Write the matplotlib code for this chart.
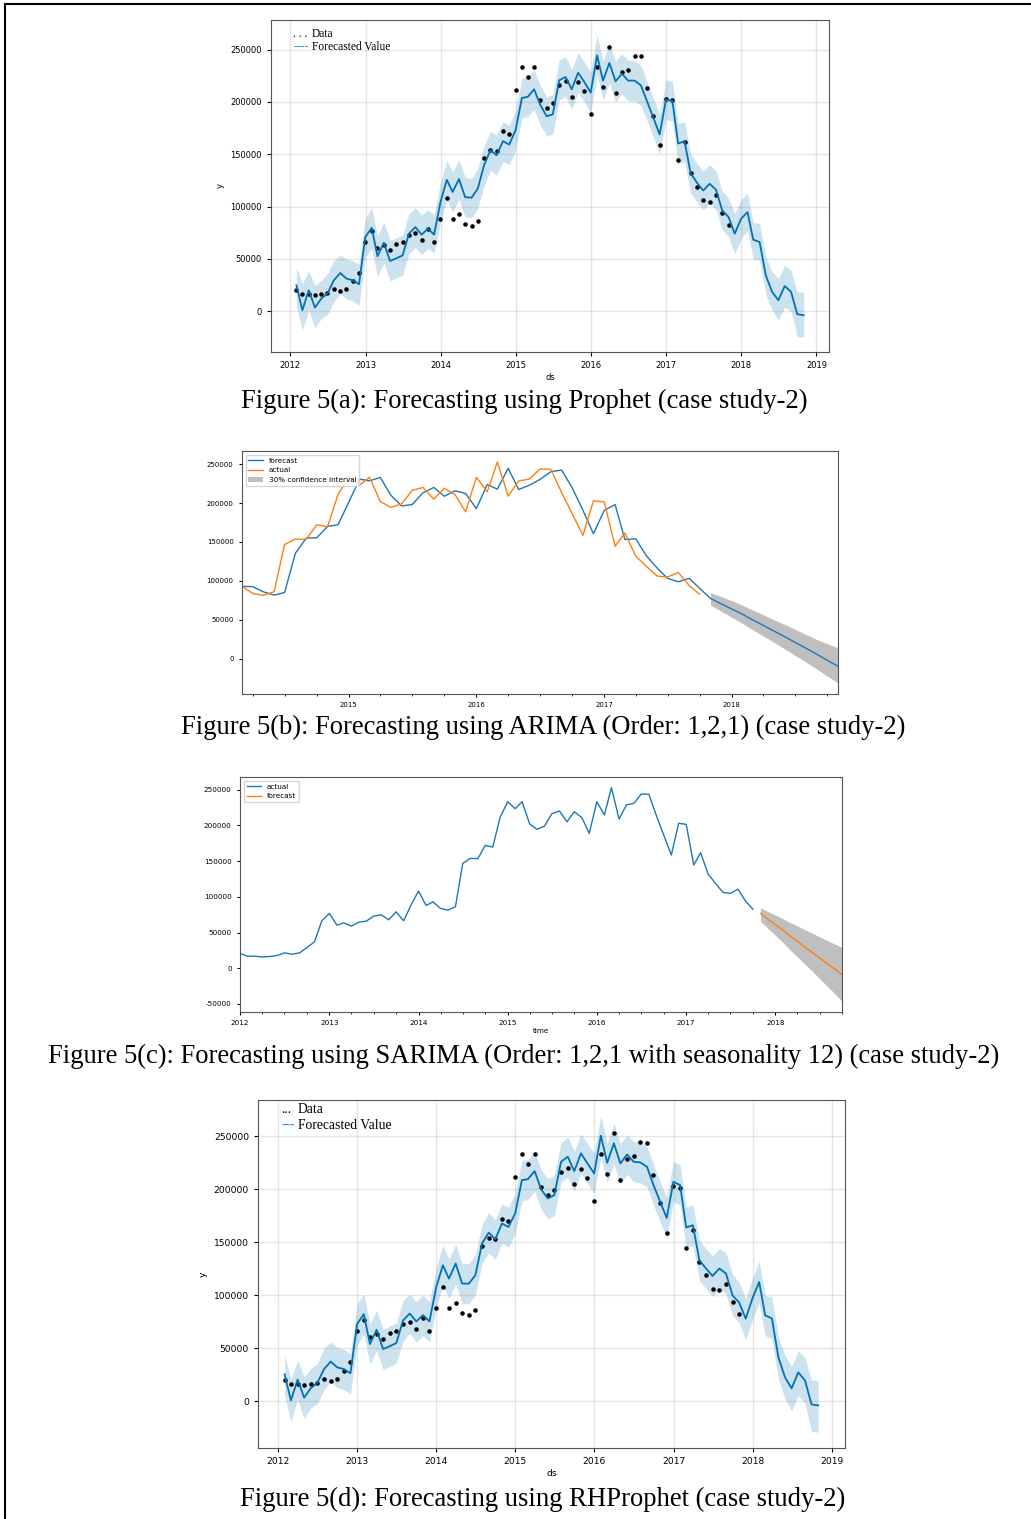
import numpy as np
import pandas as pd
import matplotlib
matplotlib.use('Agg')
import matplotlib.pyplot as plt
import matplotlib.dates as mdates
from matplotlib.lines import Line2D

plt.rcParams['axes.unicode_minus'] = False

# monthly actual values 2012-01 .. 2017-10
actual = [20600, 16800, 16800, 15900, 16300, 17800, 21500, 19600, 21500, 29000, 36900, 66400,
          76700, 60300, 63500, 58900, 64500, 65900, 72900, 74800, 67800, 79000, 66400, 88400,
          108000, 87900, 93000, 83700, 81300, 86000, 146800, 153800, 153400, 172100, 169700, 211300,
          233200, 223400, 233200, 202000, 194500, 199100, 216400, 220200, 205200, 219200, 210800, 188900,
          233200, 214600, 252900, 209000, 228600, 231000, 244000, 243600, 213600, 186500, 158500, 203000,
          201500, 144500, 161700, 131800, 118800, 106200, 104800, 110800, 94000, 82700]

# prophet forecast 2012-01 .. 2018-10
prophet_yhat = [24800, 1000, 20000, 3500, 12100, 16900, 29600, 36500, 31200, 29600, 25800, 70900,
                79800, 52500, 65500, 48000, 50600, 53400, 74100, 80400, 73200, 78900, 73200, 104300,
                125600, 114000, 126300, 109000, 108500, 117000, 139600, 153900, 149100, 162500, 159300, 173000,
                203900, 204800, 212100, 197300, 186300, 188200, 220700, 223900, 212100, 228000, 219100, 208900,
                244500, 220400, 237300, 219700, 227000, 220400, 220400, 215900, 200600, 184800, 168900, 202200,
                201000, 160300, 162500, 131800, 122700, 115400, 121800, 116100, 96400, 90000, 74100, 88400,
                94700, 68400, 66100, 34300, 18400, 10500, 24100, 18400, -2900, -3800]
prophet_upper = [41700, 26400, 38200, 24800, 29600, 36000, 48700, 53400, 50000, 48000, 45000, 89000,
                 98900, 72000, 85000, 68000, 70000, 73000, 93000, 99000, 92000, 97000, 92000, 123000,
                 144000, 133000, 145000, 128000, 127000, 136000, 158000, 172000, 168000, 181000, 178000, 192000,
                 223000, 224000, 231000, 216000, 205000, 207000, 240000, 243000, 231000, 247000, 238000, 228000,
                 264000, 239000, 256000, 239000, 246000, 240000, 239000, 235000, 219000, 203000, 188000, 221000,
                 220000, 179000, 181000, 150000, 141000, 134000, 140000, 134000, 115000, 108000, 93000, 107000,
                 112300, 85200, 83600, 52000, 37500, 31200, 43900, 39100, 18400, 18400]
prophet_lower = [4100, -18100, 1000, -15900, -7000, -3000, 8900, 16900, 12000, 10000, 5700, 52000,
                 60100, 33000, 46000, 29000, 32000, 34000, 55000, 61000, 54000, 60000, 56000, 85000,
                 106000, 95000, 107000, 90000, 89000, 98000, 120000, 135000, 130000, 143000, 140000, 154000,
                 185000, 186000, 193000, 178000, 168000, 169000, 202000, 205000, 193000, 209000, 200000, 189000,
                 226000, 202000, 218000, 200000, 208000, 201000, 201000, 197000, 182000, 166000, 150000, 183000,
                 182000, 141000, 143000, 113000, 104000, 97000, 103000, 97000, 78000, 71000, 55000, 69000,
                 77300, 50200, 48700, 16000, 1000, -8600, 4100, -600, -24500, -24500]

# RHProphet forecast 2012-01 .. 2018-10
rh_yhat = [25500, 1000, 20600, 3600, 12500, 17400, 30500, 37600, 32100, 30500, 26600, 73000,
           82200, 54100, 67500, 49400, 52100, 55000, 76300, 82800, 75400, 81300, 75400, 107400,
           128300, 115700, 129900, 111000, 111000, 118900, 148800, 159100, 152800, 167600, 164400, 177100,
           208500, 209400, 217000, 199700, 191200, 194300, 225800, 230500, 217000, 233700, 224200, 214800,
           250300, 224800, 243100, 224200, 232700, 225800, 225200, 221000, 203800, 188000, 172900, 206900,
           203800, 163900, 166000, 133000, 125200, 118200, 125200, 120500, 100000, 93000, 78000, 97000,
           112600, 81100, 78300, 41500, 22600, 12300, 27400, 19800, -2800, -3800]
rh_upper = [44000, 21000, 39000, 23000, 31000, 36000, 50000, 56000, 51000, 49000, 45000, 92000,
            101000, 73000, 86000, 68000, 71000, 74000, 95000, 101000, 94000, 100000, 94000, 126000,
            147000, 134000, 148000, 130000, 130000, 138000, 167000, 178000, 171000, 186000, 183000, 196000,
            227000, 228000, 236000, 218000, 210000, 213000, 244000, 249000, 236000, 252000, 243000, 234000,
            269000, 243000, 262000, 243000, 251000, 245000, 244000, 240000, 223000, 207000, 192000, 226000,
            223000, 183000, 185000, 152000, 144000, 137000, 144000, 140000, 120000, 112000, 97000, 116000,
            132000, 100000, 98000, 61000, 43000, 33000, 48000, 41000, 20000, 20000]
rh_lower = [6000, -19000, 2000, -16000, -6000, -2000, 11000, 19000, 13000, 11000, 7000, 54000,
            63000, 35000, 48000, 30000, 33000, 36000, 57000, 64000, 56000, 62000, 56000, 88000,
            109000, 97000, 111000, 92000, 92000, 100000, 130000, 140000, 134000, 149000, 145000, 158000,
            189000, 190000, 198000, 181000, 172000, 175000, 207000, 211000, 198000, 215000, 205000, 196000,
            231000, 206000, 224000, 205000, 214000, 207000, 206000, 202000, 185000, 169000, 154000, 188000,
            185000, 145000, 147000, 114000, 106000, 99000, 106000, 101000, 81000, 74000, 58000, 77000,
            93000, 62000, 59000, 21000, 2000, -9000, 6000, -2000, -28000, -29000]

# ARIMA(1,2,1): in-sample 2014-03 .. 2017-10, then forecast 2017-11 .. 2018-11
arima_fit = [92800, 92500, 85900, 81600, 85000, 135600, 155000, 155400, 170000, 172200,
             201600, 230900, 228700, 233100, 210200, 196400, 198100, 213300, 220200, 208900, 215900, 212400,
             193000, 224000, 218000, 244800, 217600, 223100, 230500, 240500, 242600, 219800, 190800, 160600,
             190800, 198100, 153200, 154100, 132500, 116600, 103200, 98800, 103200, 90300]
arima_fc = [77300, 70500, 63700, 56900, 49900, 42700, 35500, 28200, 20800, 13300, 5600, -2200, -10000]
arima_hi = [85000, 80000, 74500, 68500, 62500, 56500, 50000, 44000, 37500, 31000, 24500, 19000, 13800]
arima_lo = [68600, 61000, 53000, 45000, 37300, 29000, 21000, 12500, 4000, -4500, -13500, -22500, -31500]

# SARIMA forecast 2017-11 .. 2018-10
sarima_fc = [76700, 68900, 61100, 53300, 45500, 37700, 29900, 22100, 14300, 6500, -1200, -8900]
sarima_hi = [84600, 79500, 74400, 69300, 64300, 59200, 54100, 49100, 44000, 39000, 34000, 29000]
sarima_lo = [65900, 56000, 46100, 36000, 26000, 16000, 6000, -4000, -14500, -25000, -35500, -46300]

captions = ['Figure 5(a): Forecasting using Prophet (case study-2)',
            'Figure 5(b): Forecasting using ARIMA (Order: 1,2,1) (case study-2)',
            'Figure 5(c): Forecasting using SARIMA (Order: 1,2,1 with seasonality 12) (case study-2)',
            'Figure 5(d): Forecasting using RHProphet (case study-2)']

hist_dates = pd.date_range('2012-01-31', periods=len(actual), freq='ME')
fc_dates = pd.date_range('2012-01-31', periods=len(prophet_yhat), freq='ME')
serif = 'Liberation Serif'

fig = plt.figure(figsize=(10.31, 15.19), dpi=100)


def prophet_panel(ax, yhat, lo, hi, fs, leg_fs, leg_y, dots, dash, text_x):
    ax.plot(hist_dates, actual, 'k.', ms=4.5)
    ax.plot(fc_dates, yhat, ls='-', c='#0072B2', lw=1.3)
    ax.fill_between(fc_dates, lo, hi, color='#0072B2', alpha=0.2, lw=0)
    ax.grid(True, which='major', c='gray', ls='-', lw=1, alpha=0.2)
    ax.xaxis.set_major_locator(mdates.YearLocator())
    ax.xaxis.set_major_formatter(mdates.DateFormatter('%Y'))
    ax.tick_params(labelsize=fs, length=3)
    ax.set_xlabel('ds', fontsize=fs, labelpad=2)
    ax.set_ylabel('y', fontsize=fs)
    for s in ax.spines.values():
        s.set_color('#555555')
    # hand-made legend
    ax.text(0.040, leg_y[0], dots, transform=ax.transAxes, fontsize=leg_fs,
            family=serif, va='center', color='k')
    ax.text(text_x, leg_y[0], 'Data', transform=ax.transAxes, fontsize=leg_fs,
            family=serif, va='center')
    ax.text(0.040, leg_y[1], dash, transform=ax.transAxes, fontsize=leg_fs,
            family=serif, va='center', color='#1E90FF')
    ax.text(text_x, leg_y[1], 'Forecasted Value', transform=ax.transAxes, fontsize=leg_fs,
            family=serif, va='center')


# (a) Prophet
ax1 = fig.add_axes([0.2629, 0.7683, 0.5412, 0.2186])
prophet_panel(ax1, prophet_yhat, prophet_lower, prophet_upper, 6, 8.3, (0.958, 0.919),
              '. . .', '----', 0.073)

# (b) ARIMA
ax2 = fig.add_axes([0.2347, 0.5431, 0.5781, 0.1600])
b_dates = pd.date_range('2014-03-01', periods=len(arima_fit) + len(arima_fc), freq='MS')
b_act = actual[-len(arima_fit):]
ax2.plot(b_dates, arima_fit + arima_fc, color='#1f77b4', lw=1.0, label='forecast')
ax2.plot(b_dates[:len(b_act)], b_act, color='#ff7f0e', lw=1.0, label='actual')
ax2.fill_between(b_dates[len(arima_fit):], arima_lo, arima_hi, color='gray', alpha=0.5, lw=0,
                 label='30% confidence interval')
ax2.set_xlim(b_dates[0], b_dates[-1])
ax2.xaxis.set_major_locator(mdates.YearLocator())
ax2.xaxis.set_major_formatter(mdates.DateFormatter('%Y'))
ax2.xaxis.set_minor_locator(mdates.MonthLocator(bymonth=(1, 4, 7, 10)))
ax2.tick_params(labelsize=5, length=2.5)
ax2.tick_params(which='minor', length=1.5)
ax2.legend(loc='upper left', fontsize=5.2)
for s in ax2.spines.values():
    s.set_color('#555555')

# (c) SARIMA
ax3 = fig.add_axes([0.2328, 0.3338, 0.5839, 0.1547])
c_dates = pd.date_range('2012-01-01', periods=len(actual) + len(sarima_fc), freq='MS')
ax3.plot(c_dates[:len(actual)], actual, color='#1f77b4', lw=1.0, label='actual')
ax3.plot(c_dates[len(actual):], sarima_fc, color='#ff7f0e', lw=1.0, label='forecast')
ax3.fill_between(c_dates[len(actual):], sarima_lo, sarima_hi, color='k', alpha=0.25, lw=0)
ax3.set_xlim(c_dates[0], c_dates[-1])
ax3.xaxis.set_major_locator(mdates.YearLocator())
ax3.xaxis.set_major_formatter(mdates.DateFormatter('%Y'))
ax3.xaxis.set_minor_locator(mdates.MonthLocator(bymonth=(1, 4, 7, 10)))
ax3.tick_params(labelsize=5.2, length=2.5)
ax3.tick_params(which='minor', length=1.5)
ax3.set_xlabel('time', fontsize=5.2, labelpad=1)
ax3.legend(loc='upper left', fontsize=5.2)
for s in ax3.spines.values():
    s.set_color('#555555')

# (d) RHProphet
ax4 = fig.add_axes([0.2502, 0.0467, 0.5693, 0.2291])
prophet_panel(ax4, rh_yhat, rh_lower, rh_upper, 6.6, 9.8, (0.974, 0.928), '...', '---', 0.068)

# captions
cap_pos = [(524, 401), (543, 727), (524, 1056), (543, 1499)]
for txt, (cx, cy) in zip(captions, cap_pos):
    fig.text(cx / 1031, 1 - cy / 1519, txt, ha='center', va='center', fontsize=19.2, family=serif)

# page frame
fig.add_artist(Line2D([5 / 1031, 1], [1 - 4 / 1519, 1 - 4 / 1519], color='k', lw=1.5))
fig.add_artist(Line2D([5 / 1031, 5 / 1031], [0, 1 - 4 / 1519], color='k', lw=1.5))

fig.savefig('out.png', dpi=100)
